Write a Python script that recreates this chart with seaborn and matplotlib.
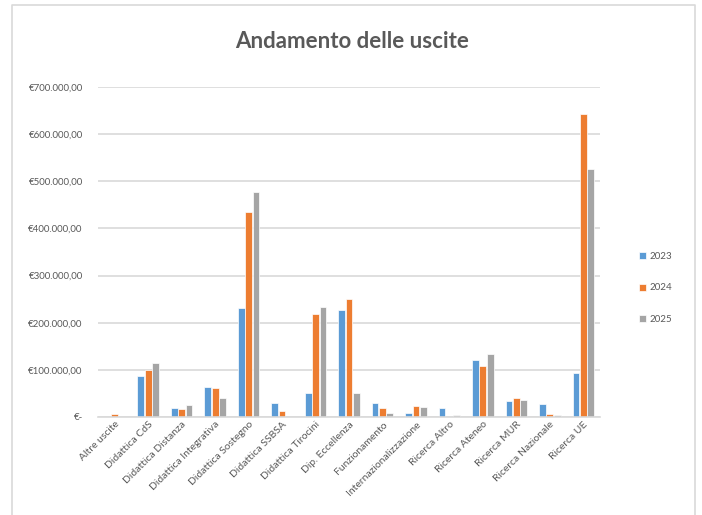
"""
Andamento delle uscite - grafico a barre raggruppate (2023/2024/2025)
"""
import numpy as np
import pandas as pd
import matplotlib
matplotlib.use("Agg")
import matplotlib.pyplot as plt
import matplotlib.ticker as ticker
import seaborn as sns

CATEGORIES = ["Altre uscite", "Didattica CdS", "Didattica Distanza", "Didattica Integrativa",
              "Didattica Sostegno", "Didattica SSBSA", "Didattica Tirocini", "Dip. Eccellenza",
              "Funzionamento", "Internazionalizzazione", "Ricerca Altro", "Ricerca Ateneo",
              "Ricerca MUR", "Ricerca Nazionale", "Ricerca UE"]
YEARS = ["2023", "2024", "2025"]
VAL_2023 = [0, 88000, 20000, 64000, 232000, 29000, 50000, 226000,
            30000, 9000, 19000, 120000, 34000, 27000, 93000]
VAL_2024 = [7000, 100000, 16000, 62000, 435000, 13000, 218000, 251000,
            20000, 23000, 0, 108000, 41000, 6000, 642000]
VAL_2025 = [0, 115000, 25000, 40000, 477000, 0, 233000, 50000,
            9000, 21000, 5000, 134000, 37000, 5000, 527000]
Y_TICKS = [0, 100000, 200000, 300000, 400000, 500000, 600000, 700000]

COLORS = ["#5B9BD5", "#ED7D31", "#A5A5A5"]
TXT = "#595959"
GRID = "#D9D9D9"

df = pd.DataFrame({
    "categoria": CATEGORIES * 3,
    "anno": [y for y in YEARS for _ in CATEGORIES],
    "valore": VAL_2023 + VAL_2024 + VAL_2025,
})

sns.set_theme(style="white")
plt.rcParams["font.family"] = ["Lato", "DejaVu Sans"]

fig = plt.figure(figsize=(7.02, 5.15), dpi=100)
ax = fig.add_axes([98 / 702, 1 - 417 / 515, (600 - 98) / 702, (417 - 87) / 515])

sns.barplot(data=df, x="categoria", y="valore", hue="anno", hue_order=YEARS,
            palette=COLORS, saturation=1, width=0.66, gap=0.08,
            edgecolor="white", linewidth=0.5, ax=ax, legend=True)

ax.set_ylim(0, 700000)
ax.set_xlim(-0.5, len(CATEGORIES) - 0.5)
ax.set_yticks(Y_TICKS)


def euro(v, _):
    if v == 0:
        return "€-"
    s = f"{v:,.2f}".replace(",", "X").replace(".", ",").replace("X", ".")
    return "€" + s


ax.yaxis.set_major_formatter(ticker.FuncFormatter(euro))
ax.grid(axis="y", color=GRID, linewidth=1.2)
ax.set_axisbelow(True)
for s in ["top", "right", "left"]:
    ax.spines[s].set_visible(False)
ax.spines["bottom"].set_color(GRID)
ax.spines["bottom"].set_linewidth(1.2)
ax.tick_params(axis="y", length=0, labelsize=7, labelcolor=TXT, pad=11)
ax.tick_params(axis="x", length=0, labelsize=7.5, labelcolor=TXT, pad=2)
ax.set_xticks(range(len(CATEGORIES)))
ax.set_xticklabels(CATEGORIES, rotation=45, ha="right", rotation_mode="anchor")
ax.set_xlabel("")
ax.set_ylabel("")

leg = ax.legend(loc="center left", bbox_to_anchor=(630 / 702, 1 - 288 / 515),
                bbox_transform=fig.transFigure, frameon=False, fontsize=7,
                handlelength=0.7, handleheight=0.7, handletextpad=0.4, labelspacing=2.3)
for t in leg.get_texts():
    t.set_color(TXT)

fig.text(352 / 702, 1 - 42 / 515, "Andamento delle uscite", ha="center", va="center",
         fontsize=16, fontweight="bold", color=TXT)

# cornice del grafico (stile Excel)
frame_x = [12 / 702, 12 / 702, 695 / 702, 695 / 702]
frame_y = [0, 1 - 5 / 515, 1 - 5 / 515, 0]
fig.add_artist(plt.Line2D(frame_x, frame_y, transform=fig.transFigure,
                          color=GRID, linewidth=1.2))

fig.savefig("out.png", dpi=100, facecolor="white")
plt.close(fig)
